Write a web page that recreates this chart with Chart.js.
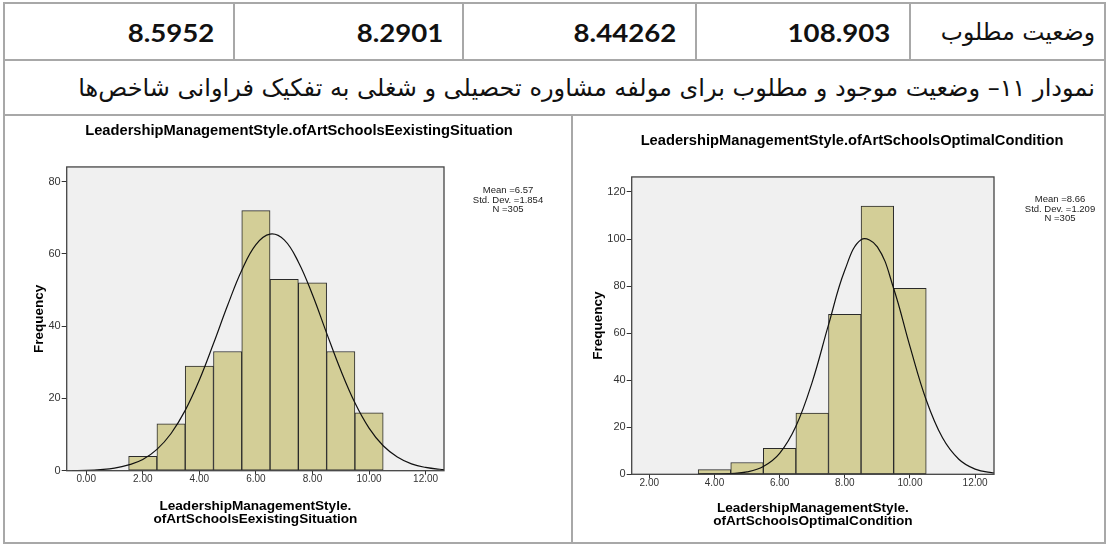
<!DOCTYPE html>
<html><head><meta charset="utf-8">
<script src="https://cdn.jsdelivr.net/npm/chart.js@4.4.1/dist/chart.umd.min.js"></script>
<style>
html,body{margin:0;padding:0;background:#fff;}
body{width:1107px;height:544px;overflow:hidden;position:relative;font-family:"Liberation Sans",Arial,sans-serif;}
.ln{position:absolute;background:#a8a8a8;}
.cell{position:absolute;top:4px;height:56px;display:flex;align-items:center;justify-content:flex-end;box-sizing:border-box;padding-right:19px;}
.num{font-family:Lato,"Liberation Sans",sans-serif;font-weight:bold;font-size:24px;color:#111;display:inline-block;transform:scaleX(1.15);transform-origin:right center;}
.fa{font-family:"DejaVu Sans",sans-serif;color:#111;}
canvas{position:absolute;}
</style></head><body>
<div class="ln" style="left:3px;top:2px;width:1103px;height:2px"></div>
<div class="ln" style="left:3px;top:59px;width:1103px;height:2px"></div>
<div class="ln" style="left:3px;top:114px;width:1103px;height:2px"></div>
<div class="ln" style="left:3px;top:542px;width:1103px;height:2px"></div>
<div class="ln" style="left:3px;top:2px;width:2px;height:542px"></div>
<div class="ln" style="left:1104px;top:2px;width:2px;height:542px"></div>
<div class="ln" style="left:233px;top:2px;width:2px;height:58px"></div>
<div class="ln" style="left:462px;top:2px;width:2px;height:58px"></div>
<div class="ln" style="left:695px;top:2px;width:2px;height:58px"></div>
<div class="ln" style="left:909px;top:2px;width:2px;height:58px"></div>
<div class="ln" style="left:571px;top:115px;width:2px;height:428px"></div>

<div id="hdr"></div>
<div class="cell fa" style="left:911px;width:194px;padding-right:10px;font-size:23.5px;"><span id="rowLabel" dir="rtl"></span></div>
<div class="fa" style="position:absolute;left:6px;top:61px;width:1089px;height:53px;display:flex;align-items:center;justify-content:flex-end;font-size:24px;"><span id="caption" dir="rtl" style="white-space:nowrap"></span></div>

<canvas id="c1" width="546" height="429" style="left:26px;top:115px;width:546px;height:429px"></canvas>
<canvas id="c2" width="528" height="429" style="left:588px;top:115px;width:528px;height:429px"></canvas>

<script>
// ---- table data ----
const headerValues = ['8.5952', '8.2901', '8.44262', '108.903'];
const headerLabel = 'وضعیت مطلوب';
const captionText = 'نمودار ۱۱– وضعیت موجود و مطلوب برای مولفه مشاوره تحصیلی و شغلی به تفکیک فراوانی شاخص\u200cها';

// ---- left histogram (existing situation) ----
const leftTitle = 'LeadershipManagementStyle.ofArtSchoolsEexistingSituation';
const leftAxisTitle = ['LeadershipManagementStyle.', 'ofArtSchoolsEexistingSituation'];
const leftBins = [2, 3, 4, 5, 6, 7, 8, 9, 10];
const leftFreq = [4, 13, 29, 33, 72, 53, 52, 33, 16];
const leftCurveX = [-0.5, 0, 0.5, 1, 1.5, 2, 2.5, 3, 3.5, 4, 4.5, 5, 5.5, 6, 6.5, 7, 7.5, 8, 8.5, 9, 9.5, 10, 10.5, 11, 11.5, 12, 12.5, 13];
const leftCurveY = [0.03, 0.1, 0.3, 0.7, 1.6, 3.1, 5.9, 10.3, 16.7, 25.1, 35.2, 45.8, 55.5, 62.6, 65.5, 63.9, 57.8, 48.7, 38.1, 27.8, 18.8, 11.8, 6.9, 3.8, 1.9, 0.9, 0.4, 0.15];
const leftXTicks = [0, 2, 4, 6, 8, 10, 12];
const leftYTicks = [0, 20, 40, 60, 80];
const leftStats = ['Mean =6.57', 'Std. Dev. =1.854', 'N =305'];

// ---- right histogram (optimal condition) ----
const rightTitle = 'LeadershipManagementStyle.ofArtSchoolsOptimalCondition';
const rightAxisTitle = ['LeadershipManagementStyle.', 'ofArtSchoolsOptimalCondition'];
const rightBins = [4, 5, 6, 7, 8, 9, 10];
const rightFreq = [2, 5, 11, 26, 68, 114, 79];
const rightCurveX = [3.5, 4, 4.5, 5, 5.5, 6, 6.5, 7, 7.5, 8, 8.5, 9, 9.5, 10, 10.5, 11, 11.5, 12, 12.5, 13];
const rightCurveY = [0.02, 0.1, 0.3, 1.0, 3.3, 8.9, 20.4, 39.2, 63.5, 86.7, 99.7, 96.7, 79.0, 54.4, 31.6, 15.5, 6.4, 2.2, 0.7, 0.2];
const rightXTicks = [2, 4, 6, 8, 10, 12];
const rightYTicks = [0, 20, 40, 60, 80, 100, 120];
const rightStats = ['Mean =8.66', 'Std. Dev. =1.209', 'N =305'];

// ---- build table ----
const colEdges = [5, 235, 464, 697, 911];
const hdr = document.getElementById('hdr');
headerValues.forEach((v, i) => {
  const d = document.createElement('div');
  d.className = 'cell';
  d.style.left = colEdges[i] + 'px';
  d.style.width = (colEdges[i + 1] - colEdges[i] - 2) + 'px';
  const s = document.createElement('span');
  s.className = 'num';
  s.textContent = v;
  d.appendChild(s);
  hdr.appendChild(d);
});
document.getElementById('rowLabel').textContent = headerLabel;
document.getElementById('caption').textContent = captionText;

// ---- charts ----
Chart.defaults.font.family = '"Liberation Sans", Arial, sans-serif';
Chart.defaults.color = '#333';

const framePlugin = {
  id: 'frame',
  beforeDraw(chart) {
    const {ctx, chartArea: a} = chart;
    ctx.save();
    ctx.fillStyle = '#f0f0f0';
    ctx.fillRect(a.left, a.top, a.right - a.left, a.bottom - a.top);
    ctx.restore();
  },
  afterDraw(chart, args, o) {
    const {ctx, chartArea: a} = chart;
    ctx.save();
    ctx.strokeStyle = '#444';
    ctx.lineWidth = 1.3;
    ctx.strokeRect(a.left, a.top, a.right - a.left, a.bottom - a.top);
    ctx.fillStyle = '#222';
    ctx.font = '9.5px "Liberation Sans", Arial, sans-serif';
    ctx.textAlign = 'center';
    ctx.textBaseline = 'middle';
    o.lines.forEach((t, i) => ctx.fillText(t, o.x, o.y + i * o.dy));
    ctx.restore();
  }
};

function histogram(id, s) {
  return new Chart(document.getElementById(id), {
    type: 'bar',
    data: {
      datasets: [
        {
          type: 'line',
          data: s.curveX.map((x, i) => ({x, y: s.curveY[i]})),
          borderColor: '#111',
          borderWidth: 1.2,
          pointRadius: 0,
          tension: 0.4,
          fill: false,
          order: 0
        },
        {
          type: 'bar',
          data: s.bins.map((x, i) => ({x, y: s.freq[i]})),
          backgroundColor: '#d3ce97',
          borderColor: '#2a2a2a',
          borderWidth: 1,
          borderSkipped: false,
          barPercentage: 1,
          categoryPercentage: 1,
          order: 1
        }
      ]
    },
    options: {
      responsive: false,
      animation: false,
      devicePixelRatio: 1,
      layout: {padding: 0},
      plugins: {
        legend: {display: false},
        tooltip: {enabled: false},
        title: {
          display: true, text: s.title, color: '#000',
          font: {size: 14.7, weight: 'bold', lineHeight: 1.2},
          padding: {top: s.titleTop, bottom: s.titleBottom}
        },
        frame: {lines: s.stats, x: s.statX, y: s.statY, dy: s.statDy}
      },
      scales: {
        x: {
          type: 'linear', min: s.xMin, max: s.xMax, offset: false,
          afterBuildTicks: sc => { sc.ticks = s.xTicks.map(v => ({value: v})); },
          afterFit: sc => { sc.height = s.xH; },
          border: {display: false},
          grid: {display: true, drawOnChartArea: false, drawTicks: true, tickLength: 4, color: '#333', tickColor: '#333', offset: false},
          ticks: {font: {size: 10, lineHeight: 1}, padding: 0, color: '#333', maxRotation: 0, autoSkip: false,
                  callback: v => Number(v).toFixed(2)},
          title: {display: true, text: s.axisTitle, color: '#000',
                  font: {size: 13.6, weight: 'bold', lineHeight: 0.98},
                  padding: {top: 0, bottom: s.xTitlePad}}
        },
        y: {
          type: 'linear', position: 'left', min: 0, max: s.yMax,
          afterBuildTicks: sc => { sc.ticks = s.yTicks.map(v => ({value: v})); },
          afterFit: sc => { sc.width = s.yW; },
          border: {display: false},
          grid: {display: true, drawOnChartArea: false, drawTicks: true, tickLength: 5, color: '#333', tickColor: '#333'},
          ticks: {font: {size: 11}, padding: 1, color: '#333', callback: v => String(v)},
          title: {display: true, text: 'Frequency', color: '#000',
                  font: {size: 13.5, weight: 'bold', lineHeight: 1.2},
                  padding: {top: s.yTitlePad, bottom: 0}}
        },
        yRight: {
          type: 'linear', axis: 'y', position: 'right', display: true,
          afterFit: sc => { sc.width = s.padR; },
          border: {display: false},
          grid: {display: false},
          ticks: {display: false}
        }
      }
    },
    plugins: [framePlugin]
  });
}

histogram('c1', {
  title: leftTitle, axisTitle: leftAxisTitle, bins: leftBins, freq: leftFreq,
  curveX: leftCurveX, curveY: leftCurveY, xTicks: leftXTicks, yTicks: leftYTicks, stats: leftStats,
  xMin: -0.69, xMax: 12.65, yMax: 84.1,
  padR: 128, yW: 40.7, xH: 73.3, titleTop: 7, titleBottom: 27.3,
  xTitlePad: 18, yTitlePad: 4.7,
  statX: 482, statY: 75.8, statDy: 9.3
});

histogram('c2', {
  title: rightTitle, axisTitle: rightAxisTitle, bins: rightBins, freq: rightFreq,
  curveX: rightCurveX, curveY: rightCurveY, xTicks: rightXTicks, yTicks: rightYTicks, stats: rightStats,
  xMin: 1.46, xMax: 12.58, yMax: 126.4,
  padR: 122, yW: 43.7, xH: 69.7, titleTop: 17.3, titleBottom: 27,
  xTitlePad: 15.6, yTitlePad: 1.9,
  statX: 472, statY: 84.5, statDy: 9.5
});
</script>
</body></html>
